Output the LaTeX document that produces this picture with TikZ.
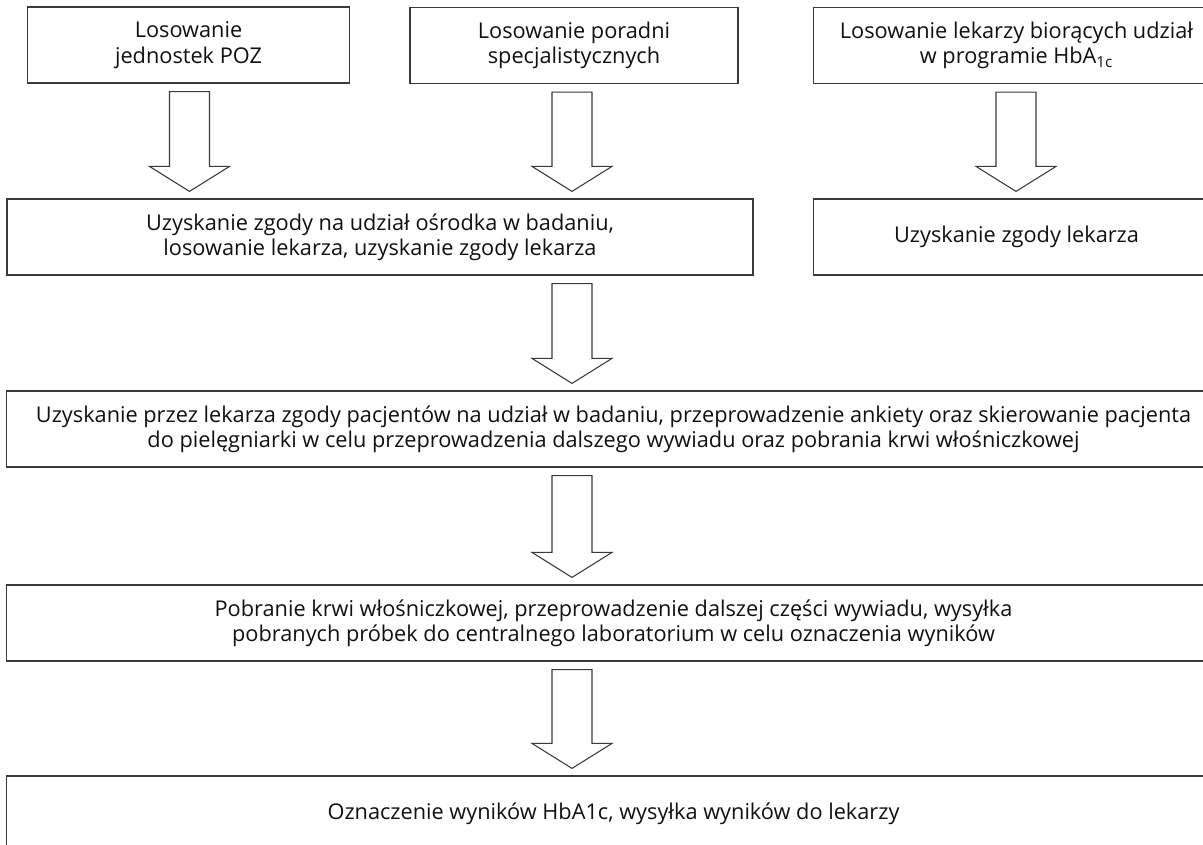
\documentclass[tikz,border=0pt]{standalone}
\usepackage{fontspec}
\setsansfont{Open Sans}
\usetikzlibrary{calc}
\definecolor{flowInk}{HTML}{111111}
\definecolor{flowLine}{HTML}{3A3A3A}
\tikzset{
  every picture/.style={font=\sffamily\fontsize{16.3}{19}\selectfont, text=flowInk},
  flow box/.style={draw=flowLine, line width=0.9pt, fill=white, align=center,
    minimum height=57pt, inner sep=0pt},
  flow arrow/.style={draw=flowLine, line width=0.8pt, fill=white, line join=miter}
}
% block arrow: x taken from #1, starts below #2, tip above #3
\newcommand\flowarrow[3]{%
  \draw[flow arrow] let \p1=(#1), \p2=(#2.south), \p3=(#3.north) in
    (\x1-15pt,\y2-6pt) -- (\x1+15pt,\y2-6pt) -- (\x1+15pt,\y3+24pt)
    -- (\x1+30pt,\y3+24pt) -- (\x1,\y3+5.25pt) -- (\x1-30pt,\y3+24pt)
    -- (\x1-15pt,\y3+24pt) -- cycle;}

\begin{document}
\begin{tikzpicture}[x=0.75pt,y=-0.75pt]
  \useasboundingbox (0,0) rectangle (1203,844);
  \clip (0,0) rectangle (1203,844);
  % first row
  \node[flow box, minimum width=242pt] (poz) at (188.5,45) {Losowanie\\jednostek POZ};
  \node[flow box, minimum width=246pt] (poradnie) at (574,45.5) {Losowanie poradni\\specjalistycznych};
  \node[flow box, minimum width=305pt] (hba) at (1016.5,45.5) {Losowanie lekarzy biorących udział\\w programie HbA\textsubscript{1c}};
  % second row
  \node[flow box, minimum width=559.5pt] (zgoda) at (380,237) {Uzyskanie zgody na udział ośrodka w badaniu,\\losowanie lekarza, uzyskanie zgody lekarza};
  \node[flow box, minimum width=305pt] (lekarz) at (1016.5,237) {Uzyskanie zgody lekarza};
  % lower column
  \node[flow box, minimum width=910pt] (wywiad) at (613.5,429) {Uzyskanie przez lekarza zgody pacjentów na udział w badaniu, przeprowadzenie ankiety oraz skierowanie pacjenta\\do pielęgniarki w celu przeprowadzenia dalszego wywiadu oraz pobrania krwi włośniczkowej};
  \node[flow box, minimum width=910pt] (pobranie) at (613.5,623) {Pobranie krwi włośniczkowej, przeprowadzenie dalszej części wywiadu, wysyłka\\pobranych próbek do centralnego laboratorium w celu oznaczenia wyników};
  \node[flow box, minimum width=910pt] (wyniki) at (613.5,814) {Oznaczenie wyników HbA1c, wysyłka wyników do lekarzy};

  \flowarrow{189.5,0}{poz}{zgoda}
  \flowarrow{572,0}{poradnie}{zgoda}
  \flowarrow{1016,0}{hba}{lekarz}
  \flowarrow{572,0}{zgoda}{wywiad}
  \flowarrow{572,0}{wywiad}{pobranie}
  \flowarrow{572,0}{pobranie}{wyniki}
\end{tikzpicture}
\end{document}
